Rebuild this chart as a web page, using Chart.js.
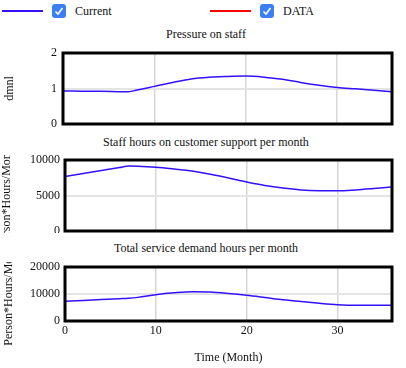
<!DOCTYPE html>
<html lang="en">
<head>
<meta charset="UTF-8">
<title>Customer support model</title>
<script src="https://cdn.jsdelivr.net/npm/chart.js"></script>
<style>
    body {
        margin: 0;
        width: 406px;
        height: 368px;
        position: relative;
        overflow: hidden;
        background: #fff;
        font-family: "Liberation Serif", "DejaVu Serif", serif;
        font-size: 12px;
        color: #111;
    }

    .swatch { position: absolute; top: 10px; width: 41px; height: 2px; }
    .check { position: absolute; top: 4px; width: 14px; height: 14px; border-radius: 3px; background: #3b7ff5; }
    .check svg { display: block; }
    .legend-label { position: absolute; top: 4px; line-height: 14px; }

    .title { position: absolute; left: 3px; width: 406px; text-align: center; line-height: 14px; }

    canvas { position: absolute; left: 0; }
</style>
</head>
<body>
    <!-- legend -->
    <div class="swatch" style="left: 2px; background: #3311ff;"></div>
    <div class="check" style="left: 52px;"><svg width="14" height="14"><polyline points="3.5,7.5 6,10 10.5,4" fill="none" stroke="#fff" stroke-width="1.6"/></svg></div>
    <div class="legend-label" style="left: 75px;">Current</div>

    <div class="swatch" style="left: 210px; background: #ff0000;"></div>
    <div class="check" style="left: 260px;"><svg width="14" height="14"><polyline points="3.5,7.5 6,10 10.5,4" fill="none" stroke="#fff" stroke-width="1.6"/></svg></div>
    <div class="legend-label" style="left: 283px;">DATA</div>

    <div class="title" style="top: 27px;">Pressure on staff</div>
    <canvas id="pressure" width="406" height="85" style="top: 45px;"></canvas>

    <div class="title" style="top: 135px;">Staff hours on customer support per month</div>
    <canvas id="staffHours" width="406" height="78" style="top: 155px;"></canvas>

    <div class="title" style="top: 241px;">Total service demand hours per month</div>
    <canvas id="demand" width="406" height="106" style="top: 262px;"></canvas>

<script>
// time axis (months) shared by all three panels
const months = [0, 2, 4, 6, 7, 8, 10, 12, 14, 16, 18, 20, 22, 24, 26, 28, 30, 32, 34, 36];

// Current run
const pressureOnStaff = [0.93, 0.925, 0.92, 0.91, 0.905, 0.95, 1.06, 1.17, 1.27, 1.32, 1.34, 1.35, 1.32, 1.26, 1.17, 1.09, 1.03, 0.99, 0.95, 0.91];
const staffSupportHours = [7690, 8110, 8530, 8940, 9150, 9120, 8980, 8740, 8460, 7980, 7450, 6890, 6400, 6040, 5790, 5680, 5660, 5790, 5990, 6210];
const serviceDemandHours = [7280, 7610, 7940, 8270, 8440, 8750, 9750, 10450, 10860, 10700, 10170, 9500, 8700, 7870, 7180, 6560, 6050, 5820, 5800, 5800];

// tick labels
const timeTicks = [0, 10, 20, 30];
const pressureTicks = [0, 1, 2];
const staffTicks = [0, 5000, 10000];
const demandTicks = [0, 10000, 20000];

Chart.defaults.font.family = '"Liberation Serif", "DejaVu Serif", serif';
Chart.defaults.font.size = 12;
Chart.defaults.color = '#111';

// thick black box round the plot area
const frame = {
    id: 'frame',
    afterDatasetsDraw(chart) {
        const { ctx, chartArea: a } = chart;
        ctx.save();
        ctx.strokeStyle = '#000';
        ctx.lineWidth = 3;
        ctx.strokeRect(a.left, a.top, a.right - a.left, a.bottom - a.top);
        ctx.restore();
    }
};

function drawPanel(id, values, yTicks, yTitle, opts) {
    const showTime = !!opts.showTime;
    return new Chart(document.getElementById(id), {
        type: 'line',
        data: {
            datasets: [{
                label: 'Current',
                data: months.map((m, i) => ({ x: m, y: values[i] })),
                borderColor: '#3311ff',
                borderWidth: 1.5,
                pointRadius: 0,
                cubicInterpolationMode: 'monotone'
            }]
        },
        options: {
            responsive: false,
            animation: false,
            layout: { padding: opts.padding },
            plugins: { legend: { display: false }, tooltip: { enabled: false } },
            scales: {
                x: {
                    type: 'linear',
                    min: 0,
                    max: 36,
                    afterBuildTicks: s => { s.ticks = timeTicks.map(v => ({ value: v })); },
                    ticks: { display: showTime, padding: 3, maxRotation: 0, callback: v => String(v) },
                    grid: { color: '#d6d6d6', lineWidth: 1.5, drawTicks: false },
                    border: { display: false },
                    title: { display: showTime, text: 'Time (Month)', padding: { top: 0, bottom: 3 } },
                    afterFit: s => {
                        s.paddingLeft = 0;
                        s.paddingRight = 0;
                        if (showTime) s.height = 47;
                    }
                },
                y: {
                    min: 0,
                    max: yTicks[yTicks.length - 1],
                    afterBuildTicks: s => { s.ticks = yTicks.map(v => ({ value: v })); },
                    ticks: { padding: opts.tickPad, callback: v => String(v) },
                    grid: { color: '#e4e4e4', lineWidth: 2, drawTicks: false },
                    border: { display: false },
                    title: { display: true, text: yTitle, padding: { top: opts.titlePad, bottom: 0 } },
                    afterFit: s => {
                        s.width = opts.axisWidth;
                        s.paddingTop = 0;
                        s.paddingBottom = 0;
                    }
                }
            }
        },
        plugins: [frame]
    });
}

drawPanel('pressure', pressureOnStaff, pressureTicks, 'dmnl',
    { padding: { top: 8, bottom: 6, left: 0, right: 14 }, axisWidth: 63, tickPad: 6, titlePad: 3 });

drawPanel('staffHours', staffSupportHours, staffTicks, 'Person*Hours/Month',
    { padding: { top: 5, bottom: 2, left: 0, right: 14 }, axisWidth: 65, tickPad: 5, titlePad: 0 });

drawPanel('demand', serviceDemandHours, demandTicks, 'Person*Hours/Month',
    { padding: { top: 5, bottom: 0, left: 0, right: 14 }, axisWidth: 65, tickPad: 5, titlePad: 2, showTime: true });
</script>
</body>
</html>
